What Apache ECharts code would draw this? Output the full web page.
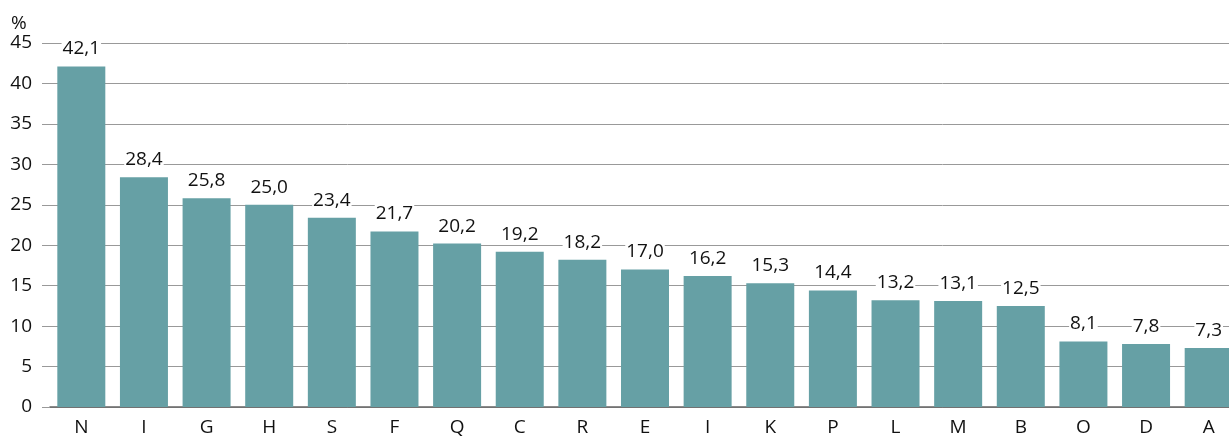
<!DOCTYPE html>
<html>
<head>
<meta charset="utf-8">
<script src="https://cdn.jsdelivr.net/npm/echarts@6/dist/echarts.min.js"></script>
<style>
  html, body { margin: 0; padding: 0; background: #fff; overflow: hidden; }
  /* slightly wider than the window: the last band runs past the right edge, as in the original */
  #chart { width: 1240px; height: 437px; }
</style>
</head>
<body>
<div id="chart"></div>
<script>
// chart data
const categories = ['N', 'I', 'G', 'H', 'S', 'F', 'Q', 'C', 'R', 'E', 'I ', 'K', 'P', 'L', 'M', 'B', 'O', 'D', 'A']
const values = [42.1, 28.4, 25.8, 25.0, 23.4, 21.7, 20.2, 19.2, 18.2, 17.0, 16.2, 15.3, 14.4, 13.2, 13.1, 12.5, 8.1, 7.8, 7.3]
const yTicks = [0, 5, 10, 15, 20, 25, 30, 35, 40, 45]

const font = '"Open Sans", sans-serif'
const chart = echarts.init(document.getElementById('chart'))

chart.setOption({
  animation: false,
  textStyle: { fontFamily: font },
  grid: { left: 50, top: 43, right: 0, bottom: 30, containLabel: false },
  xAxis: {
    type: 'category',
    data: categories,
    axisTick: { show: false },
    axisLine: { show: true, lineStyle: { color: '#666', width: 1.5 } },
    axisLabel: {
      margin: 11,
      color: '#111',
      fontSize: 19,
      fontFamily: font,
      formatter: v => v.trim()
    }
  },
  yAxis: {
    type: 'value',
    min: yTicks[0],
    max: yTicks[yTicks.length - 1],
    interval: 5,
    name: '%',
    nameLocation: 'end',
    nameGap: 10,
    nameTextStyle: { color: '#111', fontSize: 19, align: 'left', padding: [0, 0, 0, -39] },
    axisLine: { show: false },
    axisTick: { show: true, length: 8, lineStyle: { color: '#999' } },
    axisLabel: { margin: 18, color: '#111', fontSize: 19, fontFamily: font },
    splitLine: { show: true, lineStyle: { color: '#999', width: 1 } }
  },
  series: [{
    type: 'bar',
    data: values,
    barWidth: 48,
    itemStyle: { color: '#66a0a5' },
    label: {
      show: true,
      position: 'top',
      distance: 8,
      color: '#111',
      fontSize: 19,
      fontFamily: font,
      backgroundColor: '#fff',
      padding: [0, 1],
      formatter: p => p.value.toFixed(1).replace('.', ',')
    }
  }]
})
</script>
</body>
</html>
